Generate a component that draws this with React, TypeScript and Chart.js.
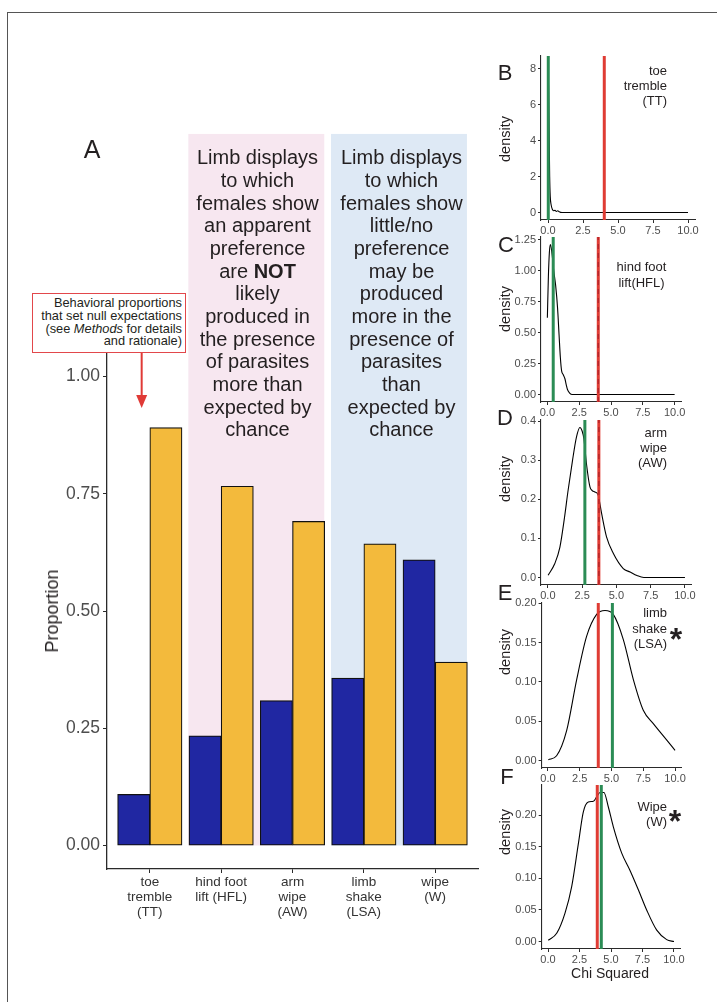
import React, { useEffect, useRef } from "react";
import { Chart, registerables } from "chart.js";

Chart.register(...registerables);

const FONT = "'Liberation Sans', Arial, Helvetica, sans-serif";
Chart.defaults.font.family = FONT;

// ---------- Panel A data ----------
const categoryLabels = [
  ["toe", "tremble", "(TT)"],
  ["hind foot", "lift (HFL)"],
  ["arm", "wipe", "(AW)"],
  ["limb", "shake", "(LSA)"],
  ["wipe", "(W)"],
];
const categoryPositions = [1, 2, 3, 4, 5];
const blueValues = [0.109, 0.234, 0.309, 0.357, 0.609];
const yellowValues = [0.891, 0.766, 0.691, 0.643, 0.391];
const proportionTicks = [0, 0.25, 0.5, 0.75, 1.0];

const shadeFrom = [1.54, 3.54];
const shadeTo = [3.445, 5.445];
const shadeColors = ["#F7E7F0", "#DEE9F5"];
const shadeTop = 1.517;
const arrowX = 0.886;
const arrowTip = 0.933;

// ---------- Density panels data ----------
const chiTicks = [0, 2.5, 5, 7.5, 10];

const ttChi = [0, 0.04, 0.08, 0.12, 0.16, 0.22, 0.3, 0.4, 0.5, 0.6, 0.7, 0.8, 0.9, 1.0, 1.5, 10];
const ttDensity = [8.3, 7.0, 4.5, 2.0, 0.9, 0.45, 0.2, 0.1, 0.12, 0.06, 0.1, 0.04, 0.01, 0, 0, 0];

const hflChi = [0, 0.08, 0.16, 0.24, 0.35, 0.5, 0.65, 0.8, 0.92, 1.02, 1.12, 1.25, 1.38, 1.48, 1.58, 1.75, 1.95, 10];
const hflDensity = [0.62, 0.95, 1.15, 1.21, 1.15, 1.0, 0.88, 0.7, 0.48, 0.3, 0.19, 0.16, 0.127, 0.08, 0.04, 0.012, 0, 0];

const awChi = [0.02, 0.5, 0.88, 1.2, 1.48, 1.8, 2.09, 2.34, 2.5, 2.63, 2.82, 3.07, 3.25, 3.43, 3.67, 3.92, 4.28, 4.77, 5.5, 6.0, 6.5, 7.0, 10];
const awDensity = [0.006, 0.035, 0.078, 0.15, 0.224, 0.3, 0.36, 0.384, 0.375, 0.355, 0.29, 0.232, 0.222, 0.219, 0.211, 0.164, 0.104, 0.062, 0.023, 0.014, 0.005, 0, 0];

const lsaChi = [0.03, 0.68, 1.47, 2.26, 3.04, 3.83, 4.49, 5.14, 5.93, 6.72, 7.5, 8.29, 9.35, 10.0];
const lsaDensity = [0.001, 0.006, 0.038, 0.103, 0.158, 0.186, 0.191, 0.186, 0.154, 0.103, 0.064, 0.047, 0.026, 0.013];

const wChi = [0.02, 0.69, 1.35, 1.88, 2.41, 2.8, 3.2, 3.6, 3.86, 4.13, 4.44, 4.79, 5.18, 5.85, 6.5, 7.17, 7.83, 8.63, 9.42, 10.0];
const wDensity = [0.002, 0.013, 0.045, 0.087, 0.155, 0.205, 0.221, 0.222, 0.229, 0.236, 0.236, 0.213, 0.182, 0.14, 0.113, 0.082, 0.05, 0.018, 0.003, 0];

const observedChi = [0.02, 0.46, 2.7, 5.07, 4.23];
const criticalChi = [4.02, 4.0, 3.72, 3.96, 3.91];

const ttYTicks = [0, 2, 4, 6, 8];
const hflYTicks = [0, 0.25, 0.5, 0.75, 1.0, 1.25];
const awYTicks = [0, 0.1, 0.2, 0.3, 0.4];
const lsaYTicks = [0, 0.05, 0.1, 0.15, 0.2];
const wYTicks = [0, 0.05, 0.1, 0.15, 0.2];

const BLUE = "#2027A2";
const YELLOW = "#F3BA3C";
const RED = "#DF3C34";
const RED_DASH = "#B8262A";
const GREEN = "#2B8C55";
const AXIS = "#2a2a2a";
const TICKTEXT = "#4D4D4D";

// layout for density panels (pixel areas on page)
const CANVAS_LEFT = 510;
const CANVAS_RIGHT = 712;
const densityPanels = [
  { chi: ttChi, dens: ttDensity, yTicks: ttYTicks, dec: 0, dashed: false, area: { l: 541, t: 55.8, r: 695, b: 220.2 } },
  { chi: hflChi, dens: hflDensity, yTicks: hflYTicks, dec: 2, dashed: true, area: { l: 541, t: 236.5, r: 681, b: 401.5 } },
  { chi: awChi, dens: awDensity, yTicks: awYTicks, dec: 1, dashed: true, area: { l: 541, t: 420.1, r: 691.8, b: 584.8 } },
  { chi: lsaChi, dens: lsaDensity, yTicks: lsaYTicks, dec: 2, dashed: false, area: { l: 541.6, t: 602.8, r: 681.4, b: 767.5 } },
  { chi: wChi, dens: wDensity, yTicks: wYTicks, dec: 2, dashed: false, area: { l: 541.7, t: 785, r: 680.3, b: 949.2 } },
];
const PAD_TOP = 12;
const XAXIS_H = 24;

function buildPanelA(canvas: HTMLCanvasElement) {
  const shading = {
    id: "shading",
    beforeDatasetsDraw(chart: any) {
      const { ctx, scales } = chart;
      const xs = scales.x;
      const ys = scales.y;
      const top = ys.getPixelForValue(shadeTop);
      const bottom = ys.getPixelForValue(0);
      ctx.save();
      shadeFrom.forEach((f, i) => {
        const x0 = xs.getPixelForValue(f);
        const x1 = xs.getPixelForValue(shadeTo[i]);
        ctx.fillStyle = shadeColors[i];
        ctx.fillRect(x0, top, x1 - x0, bottom - top);
      });
      ctx.restore();
    },
  };
  const arrow = {
    id: "arrow",
    afterDatasetsDraw(chart: any) {
      const { ctx, scales, chartArea } = chart;
      const x = scales.x.getPixelForValue(arrowX);
      const y0 = chartArea.top;
      const y1 = scales.y.getPixelForValue(arrowTip);
      ctx.save();
      ctx.strokeStyle = "#E03A36";
      ctx.fillStyle = "#E03A36";
      ctx.lineWidth = 2;
      ctx.beginPath();
      ctx.moveTo(x, y0);
      ctx.lineTo(x, y1 - 10);
      ctx.stroke();
      ctx.beginPath();
      ctx.moveTo(x - 5.5, y1 - 13);
      ctx.lineTo(x + 5.5, y1 - 13);
      ctx.lineTo(x, y1);
      ctx.closePath();
      ctx.fill();
      ctx.restore();
    },
  };
  return new Chart(canvas, {
    type: "bar",
    data: {
      datasets: [
        {
          data: categoryPositions.map((x, i) => ({ x, y: blueValues[i] })),
          backgroundColor: BLUE,
          borderColor: "#111",
          borderWidth: 1.2,
          borderSkipped: false,
          barThickness: 32.2,
        },
        {
          data: categoryPositions.map((x, i) => ({ x, y: yellowValues[i] })),
          backgroundColor: YELLOW,
          borderColor: "#111",
          borderWidth: 1.2,
          borderSkipped: false,
          barThickness: 32.2,
        },
      ] as any,
    },
    options: {
      responsive: false,
      animation: false,
      layout: { padding: { top: 233, right: 2, left: 0, bottom: 0 } },
      plugins: { legend: { display: false }, tooltip: { enabled: false } },
      scales: {
        x: {
          type: "linear",
          min: 0.4,
          max: 5.6,
          offset: false,
          afterFit: (s: any) => { s.height = 81; },
          afterBuildTicks: (s: any) => { s.ticks = categoryPositions.map((v) => ({ value: v })); },
          grid: { display: true, drawOnChartArea: false, drawTicks: true, tickLength: 4, color: AXIS, offset: false },
          border: { display: true, color: AXIS, width: 1.3 },
          ticks: {
            autoSkip: false,
            maxRotation: 0,
            minRotation: 0,
            padding: 2,
            color: "#333",
            font: { size: 13.5, lineHeight: 1.1 },
            callback: (v: any) => {
              const idx = categoryPositions.indexOf(Number(v));
              return idx >= 0 ? categoryLabels[idx] : "";
            },
          },
        },
        y: {
          type: "linear",
          min: -0.05,
          max: 1.05,
          afterFit: (s: any) => { s.width = 107; },
          afterBuildTicks: (s: any) => { s.ticks = proportionTicks.map((v) => ({ value: v })); },
          grid: { display: true, drawOnChartArea: false, drawTicks: true, tickLength: 4, color: AXIS },
          border: { display: true, color: AXIS, width: 1.3 },
          ticks: {
            padding: 3,
            color: TICKTEXT,
            font: { size: 17.5 },
            callback: (v: any) => Number(v).toFixed(2),
          },
        },
      },
    } as any,
    plugins: [shading, arrow],
  });
}

function buildDensity(canvas: HTMLCanvasElement, p: any, idx: number) {
  const M = Math.max(...p.dens);
  const yMin = -0.05 * M;
  const yMax = 1.05 * M;
  const { l, r } = p.area;
  const vline = (v: number) => [{ x: v, y: yMin }, { x: v, y: yMax }];
  const datasets: any[] = [];
  if (p.dashed) {
    datasets.push({
      data: vline(criticalChi[idx]),
      borderColor: RED_DASH,
      borderWidth: 1.5,
      borderDash: [5, 4],
      pointRadius: 0,
    });
  }
  datasets.push(
    { data: vline(criticalChi[idx]), borderColor: RED, borderWidth: 3, pointRadius: 0 },
    { data: vline(observedChi[idx]), borderColor: GREEN, borderWidth: 3, pointRadius: 0 },
    {
      data: p.chi.map((x: number, i: number) => ({ x, y: p.dens[i] })),
      borderColor: "#000",
      borderWidth: 1.1,
      pointRadius: 0,
      cubicInterpolationMode: "monotone",
    }
  );
  return new Chart(canvas, {
    type: "line",
    data: { datasets },
    options: {
      responsive: false,
      animation: false,
      layout: { padding: { top: PAD_TOP, right: CANVAS_RIGHT - r, left: 0, bottom: 0 } },
      plugins: { legend: { display: false }, tooltip: { enabled: false } },
      scales: {
        x: {
          type: "linear",
          min: -0.5,
          max: 10.5,
          afterFit: (s: any) => { s.height = XAXIS_H; },
          afterBuildTicks: (s: any) => { s.ticks = chiTicks.map((v) => ({ value: v })); },
          grid: { display: true, drawOnChartArea: false, drawTicks: true, tickLength: 3, color: AXIS },
          border: { display: true, color: AXIS, width: 1.1 },
          ticks: {
            autoSkip: false,
            maxRotation: 0,
            padding: 1,
            color: TICKTEXT,
            font: { size: 11 },
            callback: (v: any) => Number(v).toFixed(1),
          },
        },
        y: {
          type: "linear",
          min: yMin,
          max: yMax,
          afterFit: (s: any) => { s.width = l - CANVAS_LEFT; },
          afterBuildTicks: (s: any) => { s.ticks = p.yTicks.map((v: number) => ({ value: v })); },
          grid: { display: true, drawOnChartArea: false, drawTicks: true, tickLength: 3, color: AXIS },
          border: { display: true, color: AXIS, width: 1.1 },
          ticks: {
            padding: 2,
            color: TICKTEXT,
            font: { size: 11 },
            callback: (v: any) => Number(v).toFixed(p.dec),
          },
        },
      },
    } as any,
  });
}

const abs = (x: number, y: number, extra: any = {}): React.CSSProperties => ({
  position: "absolute",
  left: x,
  top: y,
  fontFamily: FONT,
  whiteSpace: "nowrap",
  ...extra,
});

function Centered({ x, y, size, children, rotate = false, color = "#231f20" }: any) {
  return (
    <div
      style={abs(x, y, {
        fontSize: size,
        lineHeight: 1,
        color,
        transform: `translate(-50%, -50%)${rotate ? " rotate(-90deg)" : ""}`,
      })}
    >
      {children}
    </div>
  );
}

function Block({ left, top, width, size, lh, align, children, color = "#231f20" }: any) {
  return (
    <div style={abs(left, top, { width, fontSize: size, lineHeight: `${lh}px`, textAlign: align, color })}>
      {children}
    </div>
  );
}

const densityTitleY = [139, 309, 479, 652, 832];
const panelLetters = [
  { t: "B", x: 505, y: 73 },
  { t: "C", x: 506, y: 245 },
  { t: "D", x: 505, y: 418 },
  { t: "E", x: 505, y: 593 },
  { t: "F", x: 507, y: 777 },
];

export default function App() {
  const aRef = useRef<HTMLCanvasElement>(null);
  const dRefs = useRef<(HTMLCanvasElement | null)[]>([]);

  useEffect(() => {
    const charts: Chart[] = [];
    if (aRef.current) charts.push(buildPanelA(aRef.current));
    densityPanels.forEach((p, i) => {
      const c = dRefs.current[i];
      if (c) charts.push(buildDensity(c, p, i));
    });
    return () => charts.forEach((c) => c.destroy());
  }, []);

  return (
    <div
      style={{
        position: "absolute",
        left: 0,
        top: 0,
        width: 717,
        height: 1002,
        overflow: "hidden",
        background: "#fff",
      }}
    >
      <div
        style={{
          position: "absolute",
          left: 7,
          top: 12,
          width: 800,
          height: 1100,
          borderTop: "1px solid #555",
          borderLeft: "1px solid #555",
        }}
      />
      <canvas
        ref={aRef}
        width={480}
        height={830}
        style={{ position: "absolute", left: 0, top: 120, width: 480, height: 830 }}
      />
      {densityPanels.map((p, i) => {
        const top = p.area.t - PAD_TOP;
        const h = Math.round(p.area.b - p.area.t + PAD_TOP + XAXIS_H);
        const w = CANVAS_RIGHT - CANVAS_LEFT;
        return (
          <canvas
            key={i}
            ref={(el) => { dRefs.current[i] = el; }}
            width={w}
            height={h}
            style={{ position: "absolute", left: CANVAS_LEFT, top, width: w, height: h }}
          />
        );
      })}

      {/* Panel A texts */}
      <Centered x={92} y={149} size={25}>A</Centered>
      <Centered x={52} y={611} size={18} rotate>Proportion</Centered>

      <div
        style={{
          position: "absolute",
          left: 32,
          top: 293,
          width: 154,
          height: 60,
          boxSizing: "border-box",
          border: "1.3px solid #E2474B",
          background: "#fff",
          paddingTop: 3,
          paddingRight: 3,
          fontFamily: FONT,
          fontSize: 12.8,
          lineHeight: "12.8px",
          textAlign: "right",
          color: "#231f20",
          whiteSpace: "nowrap",
        }}
      >
        Behavioral proportions
        <br />
        that set null expectations
        <br />
        (see <i>Methods</i> for details
        <br />
        and rationale)
      </div>

      <Block left={189} top={146.4} width={137} size={20} lh={22.67} align="center">
        Limb displays<br />to which<br />females show<br />an apparent<br />preference<br />are <b>NOT</b>
        <br />likely<br />produced in<br />the presence<br />of parasites<br />more than<br />expected by<br />chance
      </Block>
      <Block left={333} top={146.4} width={137} size={20} lh={22.67} align="center">
        Limb displays<br />to which<br />females show<br />little/no<br />preference<br />may be<br />produced
        <br />more in the<br />presence of<br />parasites<br />than<br />expected by<br />chance
      </Block>

      {/* Right panel texts */}
      {panelLetters.map((p) => (
        <Centered key={p.t} x={p.x} y={p.y} size={22}>{p.t}</Centered>
      ))}
      {densityTitleY.map((y, i) => (
        <Centered key={i} x={505} y={y} size={14.5} rotate>density</Centered>
      ))}
      <Block left={567} top={62.5} width={100} size={13} lh={15} align="right">
        toe<br />tremble<br />(TT)
      </Block>
      <Block left={591.5} top={259} width={100} size={13} lh={15.5} align="center">
        hind foot<br />lift(HFL)
      </Block>
      <Block left={567} top={424.5} width={100} size={13} lh={15} align="right">
        arm<br />wipe<br />(AW)
      </Block>
      <Block left={567} top={605.3} width={100} size={13} lh={15.5} align="right">
        limb<br />shake<br />(LSA)
      </Block>
      <Block left={567} top={800.4} width={100} size={13} lh={14.6} align="right">
        Wipe<br />(W)
      </Block>
      <div style={abs(676, 632 - 9, { fontSize: 32, lineHeight: 1, fontWeight: "bold", transform: "translateX(-50%)", color: "#231f20" })}>*</div>
      <div style={abs(675, 814 - 9, { fontSize: 32, lineHeight: 1, fontWeight: "bold", transform: "translateX(-50%)", color: "#231f20" })}>*</div>
      <Centered x={610} y={973} size={14}>Chi Squared</Centered>
    </div>
  );
}
